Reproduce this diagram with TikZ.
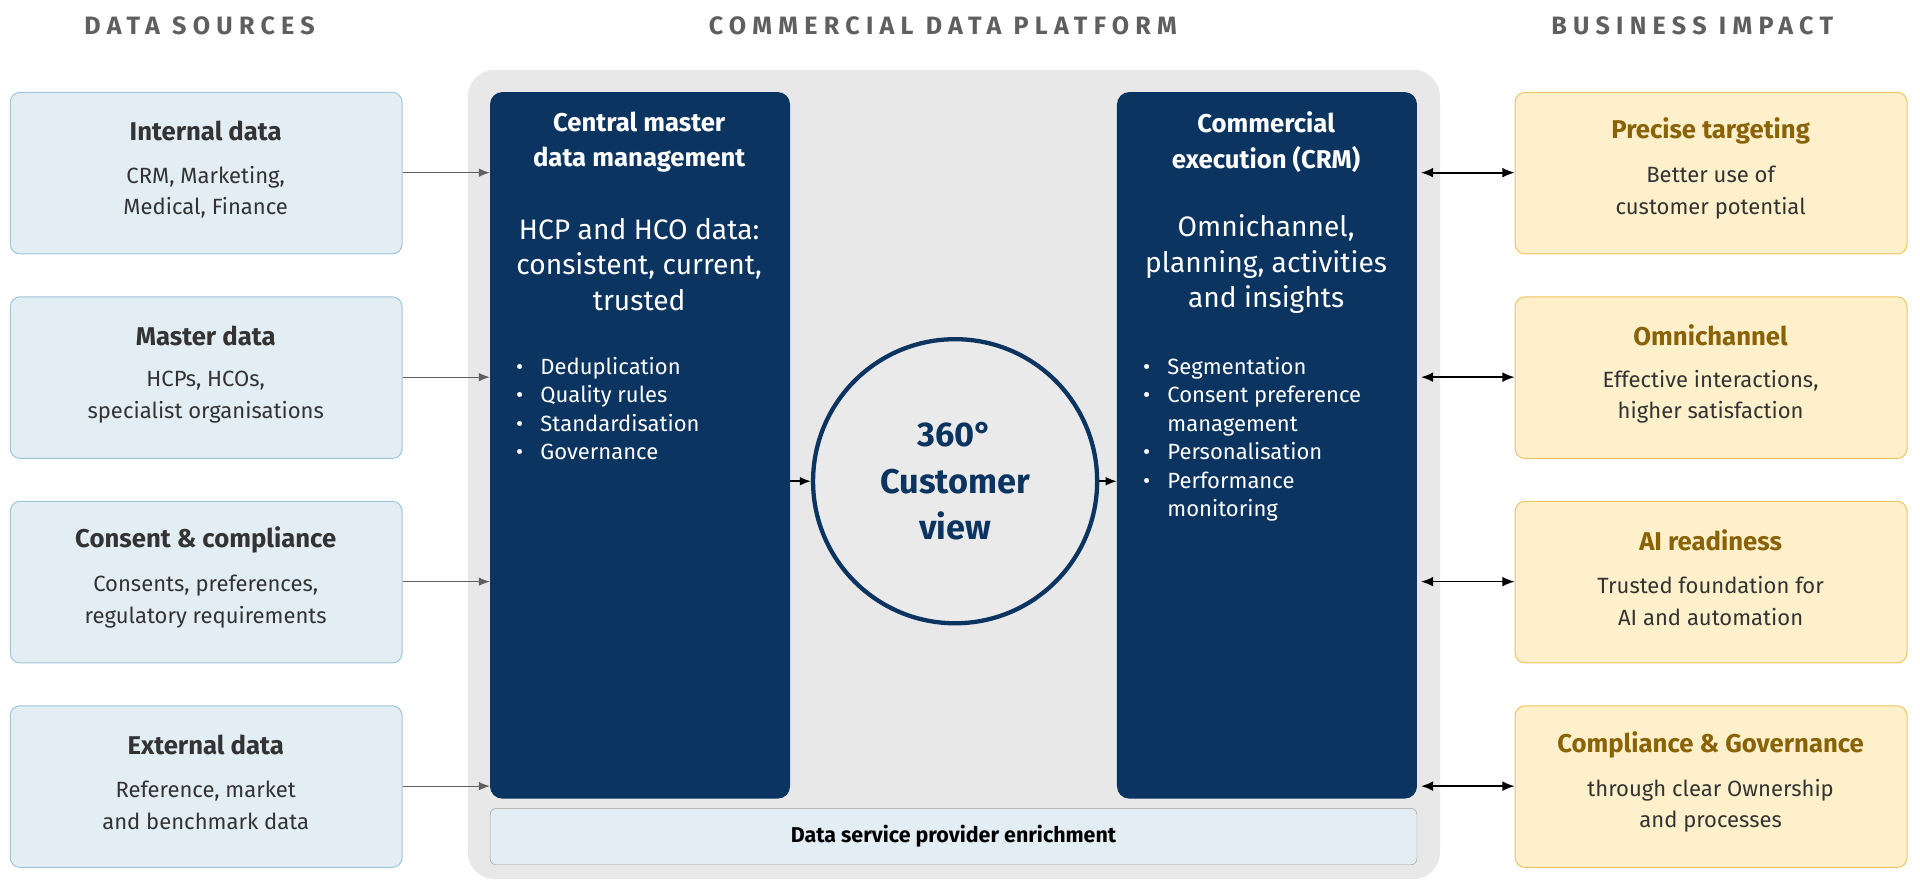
\documentclass[tikz,border=0pt]{standalone}
\usepackage{fontspec}
\setmainfont{Fira Sans}
\usetikzlibrary{arrows.meta}
\definecolor{navy}{HTML}{0B3461}
\definecolor{lblue}{HTML}{E2EDF4}
\definecolor{lbord}{HTML}{9EC4DA}
\definecolor{lyel}{HTML}{FDF0CA}
\definecolor{ybord}{HTML}{EFC45E}
\definecolor{ytext}{HTML}{8A6207}
\definecolor{hdr}{HTML}{5F5F5F}
\definecolor{plat}{HTML}{E8E8E8}
\definecolor{txt}{HTML}{333333}
\tikzset{
 hdrt/.style={font=\fontsize{20.5}{22}\selectfont\bfseries\addfontfeatures{LetterSpace=25}, text=hdr},
 src/.style={draw=lbord, fill=lblue, rounded corners=8, line width=0.8},
 imp/.style={draw=ybord, fill=lyel, rounded corners=8, line width=0.8},
 ttl/.style={font=\fontsize{21}{29}\selectfont\bfseries, align=center},
 sub/.style={font=\fontsize{18}{26}\selectfont, align=center, text=txt},
 dark/.style={fill=navy, rounded corners=10},
 arr/.style={-{Latex[length=9,width=7]}, line width=0.8, draw=hdr},
 darr/.style={{Latex[length=10,width=8]}-{Latex[length=10,width=8]}, line width=1.4, black},
 bul/.style={font=\fontsize{18}{23.3}\selectfont, text=white, align=left, anchor=north west}
}
\begin{document}
\begin{tikzpicture}[x=1pt,y=-1pt]
\useasboundingbox (0,0) rectangle (1568,720);
\node[hdrt] (h1) at (163,21) {DATA SOURCES};
\node[hdrt] (h2) at (770,21) {COMMERCIAL DATA PLATFORM};
\node[hdrt] (h3) at (1382,21) {BUSINESS IMPACT};
\fill[plat, rounded corners=22] (382,57) rectangle (1176,718);
\node[dark, minimum width=245, minimum height=577, anchor=north west] (cm) at (400,75) {};
\node[dark, minimum width=245, minimum height=577, anchor=north west] (ce) at (912,75) {};
\node[draw=hdr!60, fill=lblue, rounded corners=5, minimum width=757, minimum height=46, anchor=north west, font=\fontsize{17.5}{20}\selectfont\bfseries, text=black] (dsp) at (400,660) {Data service provider enrichment};
\node[circle, draw=navy, line width=3.5, fill=plat!90, minimum size=232, text=navy, font=\fontsize{28}{38}\selectfont\bfseries, align=center] (cv) at (780,393) {360°\\Customer\\view};
\node[ttl, text=white] (cmt) at (522,116) {Central master\\data management};
\node[font=\fontsize{23}{29}\selectfont, text=white, align=center] (cms) at (522,216) {HCP and HCO data:\\consistent, current,\\trusted};
\node[bul] (cmb) at (418,288) {•\hspace{14pt}Deduplication\\•\hspace{14pt}Quality rules\\•\hspace{14pt}Standardisation\\•\hspace{14pt}Governance};
\node[ttl, text=white] (cet) at (1034,116) {Commercial\\execution (CRM)};
\node[font=\fontsize{23}{29}\selectfont, text=white, align=center] (ces) at (1034,216) {Omnichannel,\\planning, activities\\and insights};
\node[bul] (ceb) at (930,288) {•\hspace{14pt}Segmentation\\•\hspace{14pt}Consent preference\\\phantom{•}\hspace{14pt}management\\•\hspace{14pt}Personalisation\\•\hspace{14pt}Performance\\\phantom{•}\hspace{14pt}monitoring};
\draw[arr, black, line width=1.2] (645,393) -- (cv.west);
\draw[arr, black, line width=1.2] (cv.east) -- (ce.west |- 0,393);
\foreach \n/\y/\t/\s in {s1/75/Internal data/{CRM, Marketing,\\Medical, Finance},
 s2/242/Master data/{HCPs, HCOs,\\specialist organisations},
 s3/409/Consent \& compliance/{Consents, preferences,\\regulatory requirements},
 s4/576/External data/{Reference, market\\and benchmark data}}{
 \node[src, minimum width=320, minimum height=132, anchor=north west] (\n) at (8,\y) {};
 \node[ttl, text=txt] (\n t) at (168,\y+32) {\t};
 \node[sub] (\n s) at (168,\y+82) {\s};
 \draw[arr] (\n.east |- 0,\y+66) -- (cm.west |- 0,\y+66);
}
\foreach \n/\y/\t/\s in {i1/75/Precise targeting/{Better use of\\customer potential},
 i2/242/Omnichannel/{Effective interactions,\\higher satisfaction},
 i3/409/AI readiness/{Trusted foundation for\\AI and automation},
 i4/576/Compliance \& Governance/{through clear Ownership\\and processes}}{
 \node[imp, minimum width=320, minimum height=132, anchor=north west] (\n) at (1237,\y) {};
 \node[ttl, text=ytext] (\n t) at (1397,\y+32) {\t};
 \node[sub] (\n s) at (1397,\y+82) {\s};
 \draw[darr] (ce.east |- 0,\y+66) ++(3,0) -- (\n.west |- 0,\y+66);
}
\end{tikzpicture}
\end{document}
